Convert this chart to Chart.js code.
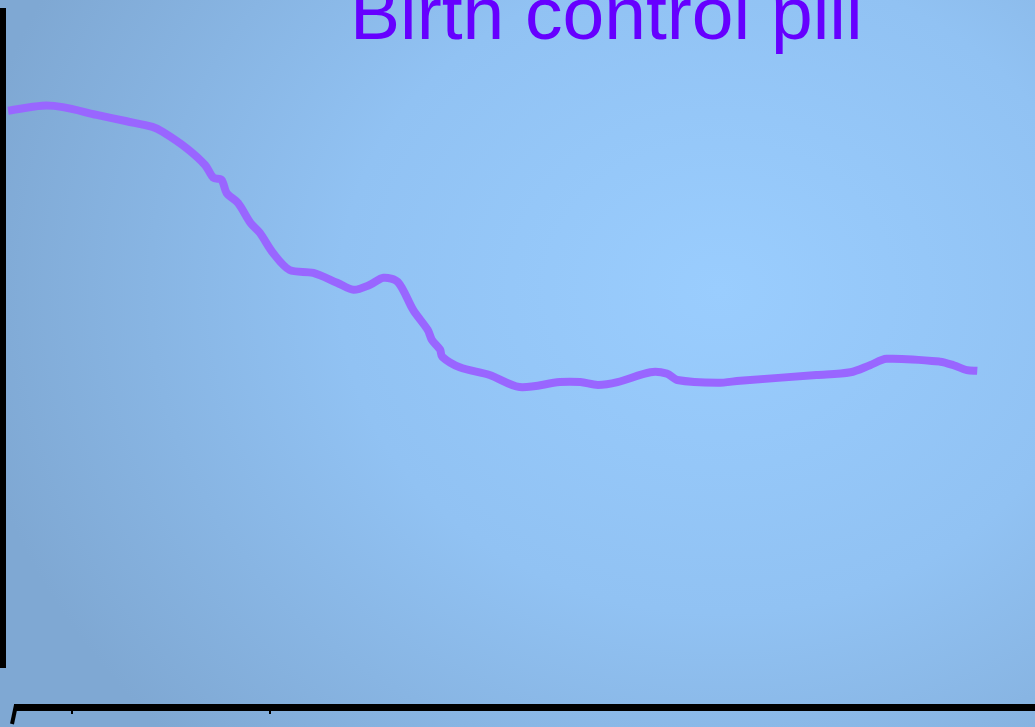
<!DOCTYPE html>
<html>
<head>
<meta charset="utf-8">
<script src="https://cdn.jsdelivr.net/npm/chart.js@4"></script>
<style>
  html, body { margin: 0; padding: 0; background: #86b4e2; }
  #wrap { width: 1035px; height: 727px; position: relative; }
</style>
</head>
<body>
<div id="wrap"><canvas id="pillChart" width="1035" height="727"></canvas></div>
<script>
// valores (eixo x e y em escala 0-100)
const xValues = [0.4, 3.7, 5.7, 9.0, 11.9, 14.4, 15.4, 17.7, 19.5, 20.3, 21.1, 21.6, 22.7, 23.9, 24.8, 26.1, 27.7, 30.0, 32.3, 33.9, 35.5, 36.8, 38.2, 39.7, 41.1, 41.5, 42.3, 42.5, 44.2, 47.1, 50.0, 53.9, 55.9, 57.6, 59.5, 62.7, 64.3, 65.3, 69.2, 71.4, 78.8, 82.1, 84.0, 85.6, 90.8, 92.1, 93.4, 94.4];
const yValues = [84.3, 85.0, 84.8, 83.7, 82.8, 82.0, 81.3, 79.0, 76.6, 74.8, 74.5, 72.6, 71.2, 68.4, 67.0, 64.1, 61.7, 61.3, 59.9, 58.9, 59.6, 60.6, 60.0, 56.0, 53.2, 51.8, 50.4, 49.4, 47.9, 46.8, 45.1, 45.8, 45.8, 45.4, 45.8, 47.2, 47.0, 46.1, 45.7, 46.0, 46.8, 47.2, 48.2, 49.1, 48.7, 48.2, 47.5, 47.4];
const titulo = "Birth control pill";

const dados = xValues.map((x, i) => ({ x: x, y: yValues[i] }));

// fundo com gradiente radial
const fundoPlugin = {
  id: "fundo",
  beforeDraw(chart) {
    const ctx = chart.ctx;
    ctx.save();
    ctx.translate(720, 290);
    ctx.scale(1, 0.85);
    const grad = ctx.createRadialGradient(0, 0, 0, 0, 0, 760);
    grad.addColorStop(0, "#9acdfe");
    grad.addColorStop(0.5, "#91c2f3");
    grad.addColorStop(1, "#7fa8d3");
    ctx.fillStyle = grad;
    ctx.fillRect(-1000, -1000, 2400, 2400);
    ctx.restore();
  }
};

// eixos desenhados à mão e título
const eixosPlugin = {
  id: "eixos",
  afterDraw(chart) {
    const ctx = chart.ctx;
    ctx.save();
    ctx.strokeStyle = "#000";
    ctx.lineWidth = 6;
    ctx.beginPath();
    ctx.moveTo(3, 8);
    ctx.lineTo(3, 668);
    ctx.stroke();
    ctx.lineWidth = 7;
    ctx.beginPath();
    ctx.moveTo(14, 707.5);
    ctx.lineTo(1035, 707.5);
    ctx.stroke();
    ctx.lineWidth = 4;
    ctx.beginPath();
    ctx.moveTo(16, 705);
    ctx.lineTo(12, 724);
    ctx.stroke();
    ctx.lineWidth = 2;
    ctx.beginPath();
    ctx.moveTo(72, 710);
    ctx.lineTo(72, 714);
    ctx.moveTo(270, 710);
    ctx.lineTo(270, 714);
    ctx.stroke();

    ctx.fillStyle = "#6600ff";
    ctx.font = "75px 'Liberation Sans', Arial, sans-serif";
    ctx.textBaseline = "alphabetic";
    ctx.fillText(titulo, 350, 39);
    ctx.restore();
  }
};

const ctx = document.getElementById("pillChart").getContext("2d");
const pillChart = new Chart(ctx, {
  type: "line",
  data: {
    datasets: [{
      label: titulo,
      data: dados,
      borderColor: "#9966ff",
      borderWidth: 8,
      pointRadius: 0,
      fill: false,
      tension: 0.3,
      borderCapStyle: "butt",
      borderJoinStyle: "round"
    }]
  },
  options: {
    responsive: false,
    animation: false,
    layout: { padding: { left: 4, right: 0, top: 0, bottom: 22 } },
    plugins: {
      legend: { display: false },
      tooltip: { enabled: false }
    },
    scales: {
      x: { type: "linear", min: 0, max: 100, display: false },
      y: { min: 0, max: 100, display: false }
    }
  },
  plugins: [fundoPlugin, eixosPlugin]
});
</script>
</body>
</html>
